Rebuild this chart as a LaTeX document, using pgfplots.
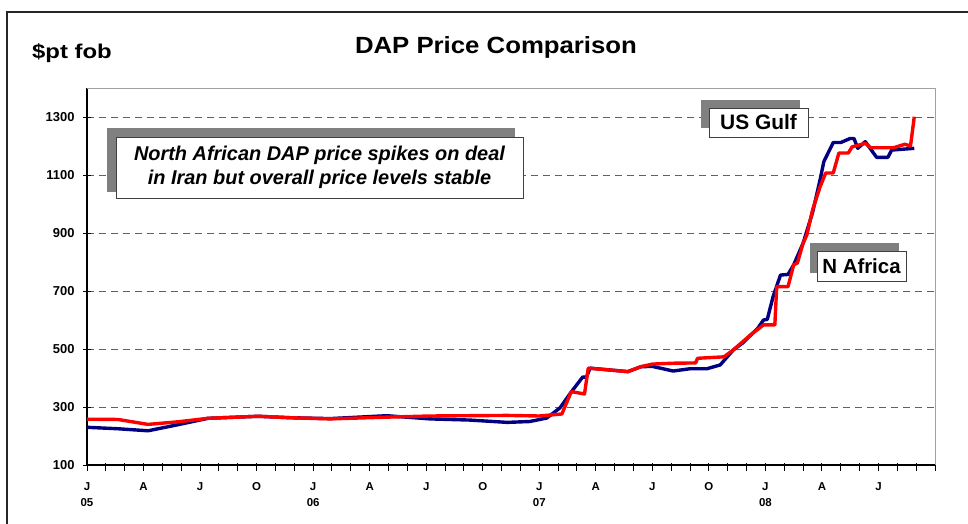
\documentclass[border=0pt]{standalone}
\usepackage{pgfplots}
\pgfplotsset{compat=1.18}
\usepackage{graphicx}
\usepackage{fontspec}
\setmainfont{Liberation Sans}
\definecolor{navyline}{HTML}{000080}
\definecolor{redline}{HTML}{FF0000}
\definecolor{shadowgray}{HTML}{808080}
\definecolor{gridgray}{HTML}{606060}
\definecolor{boxgray}{HTML}{A0A0A0}
\begin{document}
\begin{tikzpicture}
\path[use as bounding box] (0bp,0bp) rectangle (968bp,-524bp);
\draw[line width=1.4bp, black!85] (7bp,-524bp) -- (7bp,-12bp) -- (968bp,-12bp);
\node[font=\fontsize{23.5}{27}\selectfont\bfseries] at (496bp,-47bp) {\scalebox{1.1}[1]{DAP Price Comparison}};
\node[font=\fontsize{20}{23}\selectfont\bfseries] at (72bp,-53bp) {\scalebox{1.2}[1]{\$pt fob}};
\begin{axis}[
  name=main,
  at={(87bp,-465bp)}, anchor=south west,
  scale only axis, width=848bp, height=377bp,
  xmin=0, xmax=45, ymin=100, ymax=1400,
  axis x line*=bottom, axis y line*=left,
  axis line style={line width=1.2bp, black},
  xtick={0,3,...,45},
  xticklabels={{J\\05},A,J,O,{J\\06},A,J,O,{J\\07},A,J,O,{J\\08},A,J,{}},
  minor x tick num=2,
  ytick={100,300,...,1300},
  tick align=center,
  major tick length=8bp, minor tick length=8bp,
  xtick style={yshift=-2bp, line width=1bp, black},
  ytick style={line width=1bp, black},
  xticklabel style={align=center, font=\fontsize{11.5}{16}\selectfont\bfseries, yshift=-10bp},
  yticklabel style={font=\fontsize{13}{15}\selectfont\bfseries, xshift=-5bp, /pgf/number format/1000 sep={}, /pgf/number format/assume math mode=true},
  ymajorgrids,
  major grid style={dash pattern=on 7bp off 5bp, gridgray, line width=0.9bp},
  clip=false,
]
\addplot[navyline, line width=3.4bp, line join=round] coordinates {
(0,230) (1.65,225) (3.24,218) (4.83,239) (6.42,261) (9.08,268) (10.8,263)
(12.9,260) (15.9,270) (18.2,259) (20.3,255) (22.3,247) (23.5,250) (24.4,262)
(25.1,297) (25.7,352) (26.3,403) (26.5,403) (26.7,434) (28.7,422) (29.4,439)
(30.0,440) (30.7,430) (31.1,424) (32.0,432) (32.9,432) (33.6,445) (34.3,497)
(34.8,521) (35.6,572) (35.9,600) (36.1,602) (36.4,679) (36.8,755) (37.2,757)
(37.5,790) (38.0,865) (38.5,970) (38.9,1083) (39.1,1146) (39.6,1212) (40.0,1212)
(40.5,1226) (40.7,1226) (40.9,1192) (41.3,1215) (41.9,1161) (42.5,1161)
(42.7,1186) (43.9,1192)
};
\addplot[redline, line width=3.4bp, line join=round] coordinates {
(0,258) (1.65,257) (3.24,240) (4.83,249) (6.42,261) (9.08,268) (10.8,263)
(12.9,259) (15.9,265) (18.2,269) (22.3,271) (24.0,269) (25.2,276) (25.7,353)
(26.4,345) (26.6,434) (28.7,422) (29.4,439) (30.0,448) (31.1,451) (32.3,452)
(32.4,468) (33.8,473) (34.3,497) (35.2,548) (35.9,583) (36.5,583) (36.6,715)
(37.2,715) (37.5,790) (37.7,797) (38.0,865) (38.2,893) (38.5,979) (38.9,1059)
(39.2,1107) (39.6,1107) (39.9,1176) (40.4,1176) (40.6,1197) (41.3,1209)
(41.6,1194) (42.8,1194) (43.4,1206) (43.7,1200) (43.9,1301)
};
\end{axis}
\draw[boxgray, line width=1bp] (main.north west) -- (main.north east) -- (main.south east);
% annotation: main text
\fill[shadowgray] (107bp,-128bp) rectangle (515bp,-192bp);
\draw[fill=white, draw=black!75, line width=0.8bp] (116bp,-137bp) rectangle (523bp,-198bp);
\node[font=\fontsize{20}{24.5}\selectfont\bfseries\itshape, align=center] at (319.5bp,-167.5bp) {North African DAP price spikes on deal\\in Iran but overall price levels stable};
% US Gulf
\fill[shadowgray] (701bp,-100bp) rectangle (800bp,-128bp);
\draw[fill=white, draw=black!75, line width=0.8bp] (709bp,-108bp) rectangle (808bp,-137bp);
\node[font=\fontsize{21}{24}\selectfont\bfseries] at (758.5bp,-122.5bp) {US Gulf};
% N Africa
\fill[shadowgray] (810bp,-243bp) rectangle (899bp,-273bp);
\draw[fill=white, draw=black!75, line width=0.8bp] (817bp,-251bp) rectangle (906bp,-281bp);
\node[font=\fontsize{20.5}{24}\selectfont\bfseries] at (861.5bp,-266bp) {N Africa};
\end{tikzpicture}
\end{document}
